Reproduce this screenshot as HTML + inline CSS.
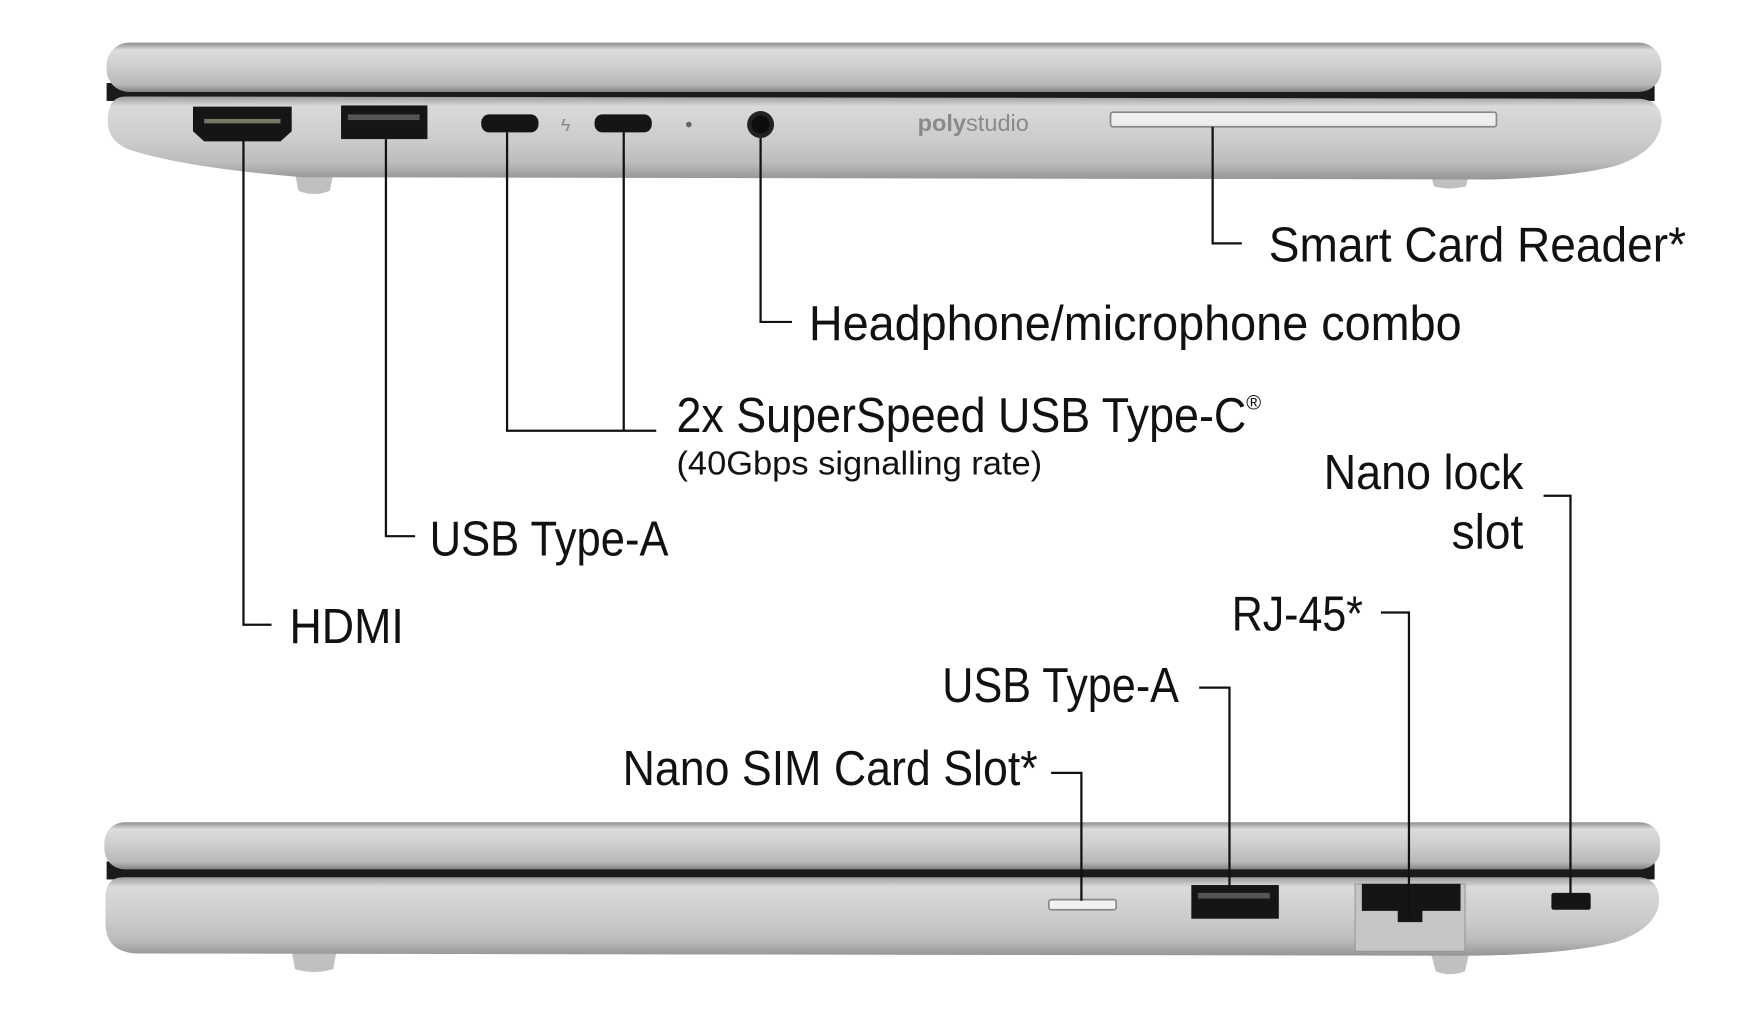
<!DOCTYPE html>
<html><head><meta charset="utf-8"><style>
html,body{margin:0;padding:0;background:#fff;}
svg{display:block;}
text{font-family:"Liberation Sans",sans-serif;fill:#111;}
</style></head><body>
<svg width="1750" height="1009" viewBox="0 0 1560 899.5" xmlns="http://www.w3.org/2000/svg">
<defs>
<linearGradient id="lid" x1="0" y1="0" x2="0" y2="1">
<stop offset="0" stop-color="#8e8e8e"/><stop offset="0.15" stop-color="#dcdcdc"/><stop offset="0.5" stop-color="#cdcdcd"/><stop offset="0.85" stop-color="#b8b8b8"/><stop offset="1" stop-color="#828282"/>
</linearGradient>
<linearGradient id="base" x1="0" y1="0" x2="0" y2="1">
<stop offset="0" stop-color="#9c9c9c"/><stop offset="0.12" stop-color="#dadada"/><stop offset="0.55" stop-color="#cbcbcb"/><stop offset="0.8" stop-color="#bcbcbc"/><stop offset="1" stop-color="#959595"/>
</linearGradient>
</defs>
<!-- TOP LAPTOP -->
<path d="M262 150 L298 150 L294 170 Q280 176 266 170 Z" fill="#c0c0c0"/>
<path d="M1275 152 L1310 152 L1307 166 Q1292 170 1278 166 Z" fill="#c0c0c0"/>
<rect x="95" y="74" width="1380" height="16" fill="#1a1a1a"/>
<rect x="95" y="38" width="1386" height="44" rx="20" fill="url(#lid)"/>
<path d="M112 86 L1462 88 Q1482 90 1481 110 Q1478 135 1440 148 Q1400 158 1330 160 L270 158 Q170 150 120 135 Q96 128 96 108 Q96 86 112 86 Z" fill="url(#base)"/>
<path d="M172 95 H260 V117 L250 126 H182 L172 117 Z" fill="#151515"/>
<rect x="182" y="106" width="68" height="4" fill="#776"/>
<rect x="304" y="94" width="77" height="30" fill="#151515"/>
<rect x="310" y="102" width="64" height="5" fill="#555"/>
<rect x="429" y="102" width="51" height="16" rx="7" fill="#151515"/>
<text x="500" y="117" font-size="16" style="fill:#888">ϟ</text>
<rect x="530" y="102" width="51" height="16" rx="7" fill="#151515"/>
<circle cx="614" cy="111" r="2.5" fill="#666"/>
<circle cx="678" cy="111" r="12" fill="#222"/><circle cx="678" cy="111" r="8" fill="#0d0d0d"/>
<text x="818" y="117" font-size="21" style="fill:#8a8a8a;font-weight:bold">poly<tspan style="font-weight:normal">studio</tspan></text>
<rect x="990" y="100" width="344" height="13" rx="2" fill="#eee" stroke="#888" stroke-width="1.5"/>
<!-- BOTTOM LAPTOP -->
<path d="M260 848 L300 848 L297 864 Q280 869 263 864 Z" fill="#c0c0c0"/>
<path d="M1275 848 L1310 848 L1306 866 Q1292 871 1280 866 Z" fill="#c0c0c0"/>
<rect x="95" y="768" width="1380" height="16" fill="#1a1a1a"/>
<rect x="93" y="733" width="1387" height="42" rx="18" fill="url(#lid)"/>
<path d="M110 782 L1462 782 Q1480 784 1479 805 Q1476 828 1440 840 Q1390 852 1300 852 L120 850 Q95 848 94 825 L94 800 Q94 782 110 782 Z" fill="url(#base)"/>
<rect x="935" y="802" width="60" height="9" rx="2" fill="#f2f2f2" stroke="#888" stroke-width="1.5"/>
<rect x="1062" y="789" width="78" height="30" fill="#151515"/>
<rect x="1068" y="796" width="64" height="5" fill="#555"/>
<rect x="1208" y="788" width="98" height="60" fill="#c6c6c6" stroke="#999" stroke-width="1"/>
<path d="M1214 788 H1302 V812 H1268 V822 H1246 V812 H1214 Z" fill="#151515"/>
<rect x="1383" y="796" width="35" height="15" rx="2" fill="#151515"/>
<!-- LEADER LINES -->
<g fill="none" stroke="#111" stroke-width="2">
<path d="M217 125 V557 H242"/>
<path d="M344 124 V478 H370"/>
<path d="M452 118 V384 H585 M556 118 V384"/>
<path d="M678 123 V287 H706"/>
<path d="M1081 113 V217 H1107"/>
<path d="M964 803 V689 H937"/>
<path d="M1096 790 V613 H1069"/>
<path d="M1256 818 V546 H1231"/>
<path d="M1400 800 V442 H1376"/>
</g>
<!-- LABELS -->
<g font-size="44">
<text x="1131" y="233" textLength="372" lengthAdjust="spacingAndGlyphs">Smart Card Reader*</text>
<text x="721" y="303" textLength="582" lengthAdjust="spacingAndGlyphs">Headphone/microphone combo</text>
<text x="603" y="385" textLength="508" lengthAdjust="spacingAndGlyphs">2x SuperSpeed USB Type-C</text>
<text x="1111" y="365" font-size="18">®</text>
<text x="603" y="423" font-size="30" textLength="326" lengthAdjust="spacingAndGlyphs">(40Gbps signalling rate)</text>
<text x="383" y="495" textLength="213" lengthAdjust="spacingAndGlyphs">USB Type-A</text>
<text x="258" y="573" textLength="102" lengthAdjust="spacingAndGlyphs">HDMI</text>
<text x="1180" y="436" textLength="178" lengthAdjust="spacingAndGlyphs">Nano lock</text>
<text x="1294" y="489" textLength="64" lengthAdjust="spacingAndGlyphs">slot</text>
<text x="1098" y="562" textLength="117" lengthAdjust="spacingAndGlyphs">RJ-45*</text>
<text x="840" y="626" textLength="211" lengthAdjust="spacingAndGlyphs">USB Type-A</text>
<text x="555" y="700" textLength="370" lengthAdjust="spacingAndGlyphs">Nano SIM Card Slot*</text>
</g>
</svg>
</body></html>
